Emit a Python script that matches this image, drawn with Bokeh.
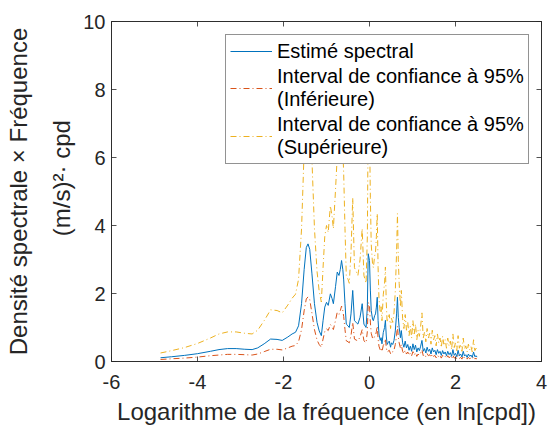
import math
from bokeh.plotting import figure
from bokeh.models import Range1d, LinearAxis, FixedTicker, Legend, LegendItem, ColumnDataSource
from bokeh.embed import file_html
from bokeh.resources import INLINE

# ---------------- data ----------------
log_freq = [
    -4.86, -4.6, -4.3, -4.0, -3.7, -3.5, -3.3, -3.1, -2.9, -2.73, -2.6, -2.45, -2.3, -2.15, -2.03, -1.9, -1.8, -1.72,
    -1.65, -1.58, -1.52, -1.47, -1.43, -1.39, -1.34, -1.28, -1.22, -1.17, -1.12, -1.08, -1.04, -1.0, -0.96, -0.91, -0.87, -0.84, -0.79, -0.75, -0.71, -0.68, -0.65, -0.62,
    -0.60, -0.57, -0.54, -0.50, -0.47, -0.43, -0.39, -0.35, -0.31, -0.27, -0.22, -0.17, -0.13, -0.08, -0.05, -0.03, 0.0, 0.02, 0.04, 0.07, 0.09, 0.12, 0.14, 0.16,
    0.18, 0.20, 0.22, 0.25, 0.27, 0.29, 0.32, 0.35, 0.37, 0.39, 0.41, 0.43, 0.46, 0.49, 0.51, 0.54, 0.57, 0.60, 0.63, 0.65, 0.67, 0.69, 0.72, 0.74, 0.77,
    0.80, 0.83, 0.86, 0.89, 0.92, 0.95, 0.98, 1.01, 1.04, 1.07, 1.10, 1.13, 1.16, 1.19, 1.22, 1.25, 1.28, 1.31, 1.34, 1.37,
    1.40, 1.43, 1.46, 1.49, 1.52, 1.55, 1.58, 1.61, 1.64, 1.67, 1.70, 1.73, 1.76, 1.79, 1.82, 1.85, 1.88, 1.91, 1.94, 1.97,
    2.00, 2.03, 2.06, 2.09, 2.12, 2.15, 2.18, 2.21, 2.24, 2.27, 2.30, 2.33, 2.36, 2.39, 2.42, 2.45, 2.48, 2.50,
]

spectral_estimate = [
    0.11, 0.14, 0.18, 0.23, 0.30, 0.35, 0.38, 0.38, 0.36, 0.35, 0.40, 0.52, 0.66, 0.65, 0.62, 0.72, 0.81, 0.86,
    1.05, 1.7, 2.7, 3.35, 3.46, 3.3, 2.6, 1.7, 1.15, 0.9, 0.76, 1.2, 1.6, 1.74, 1.65, 1.99, 1.85, 1.7, 2.2, 2.63, 2.53, 2.7, 2.97, 2.7,
    2.4, 1.7, 1.1, 1.05, 1.0, 1.4, 2.09, 1.2, 1.15, 1.1, 1.3, 1.7, 1.1, 1.0, 1.6, 3.17, 2.97, 2.1, 1.5, 1.25, 1.2, 1.35, 1.4, 1.6,
    1.89, 1.2, 0.81, 0.62, 0.7, 0.52, 0.85, 1.0, 1.21, 0.75, 0.5, 0.55, 0.6, 0.42, 0.55, 0.5, 0.62, 0.9, 1.4, 1.89, 1.3, 1.0, 0.7, 0.91, 0.55,
    0.42, 0.6, 0.4, 0.5, 0.33, 0.45, 0.3, 0.52, 0.35, 0.48, 0.28, 0.4, 0.32, 0.45, 0.62, 0.3, 0.38, 0.25, 0.42, 0.3,
    0.36, 0.22, 0.4, 0.28, 0.33, 0.2, 0.35, 0.24, 0.3, 0.18, 0.32, 0.22, 0.28, 0.17, 0.3, 0.2, 0.26, 0.15, 0.35, 0.18,
    0.24, 0.14, 0.33, 0.17, 0.22, 0.13, 0.3, 0.16, 0.2, 0.12, 0.22, 0.15, 0.19, 0.12, 0.28, 0.14, 0.17, 0.13,
]

ci_lower = [
    0.06, 0.08, 0.10, 0.13, 0.17, 0.19, 0.21, 0.21, 0.20, 0.19, 0.22, 0.29, 0.36, 0.36, 0.34, 0.40, 0.45, 0.47,
    0.58, 0.94, 1.49, 1.84, 1.90, 1.82, 1.43, 0.94, 0.63, 0.50, 0.42, 0.66, 0.88, 0.96, 0.91, 1.09, 1.02, 0.94, 1.21, 1.45, 1.39, 1.49, 1.63, 1.49,
    1.32, 0.94, 0.61, 0.58, 0.55, 0.77, 1.15, 0.66, 0.63, 0.61, 0.72, 0.94, 0.61, 0.55, 0.88, 1.74, 1.63, 1.16, 0.83, 0.69, 0.66, 0.74, 0.77, 0.88,
    1.04, 0.66, 0.45, 0.34, 0.39, 0.29, 0.47, 0.55, 0.67, 0.41, 0.28, 0.30, 0.33, 0.23, 0.30, 0.28, 0.34, 0.50, 0.77, 1.04, 0.72, 0.55, 0.39, 0.50, 0.30,
    0.23, 0.33, 0.22, 0.28, 0.18, 0.25, 0.17, 0.29, 0.19, 0.26, 0.15, 0.22, 0.18, 0.25, 0.34, 0.17, 0.21, 0.14, 0.23, 0.17,
    0.20, 0.12, 0.22, 0.15, 0.18, 0.11, 0.19, 0.13, 0.17, 0.10, 0.18, 0.12, 0.15, 0.09, 0.17, 0.11, 0.14, 0.08, 0.19, 0.10,
    0.13, 0.08, 0.18, 0.09, 0.12, 0.07, 0.17, 0.09, 0.11, 0.07, 0.12, 0.08, 0.10, 0.07, 0.15, 0.08, 0.09, 0.07,
]

ci_upper = [
    0.25, 0.32, 0.41, 0.53, 0.69, 0.81, 0.87, 0.87, 0.83, 0.81, 0.92, 1.20, 1.52, 1.50, 1.43, 1.66, 1.86, 1.98,
    2.42, 3.91, 6.21, 7.71, 7.96, 7.59, 5.98, 3.91, 2.65, 2.07, 1.75, 2.76, 3.68, 4.00, 3.80, 4.58, 4.26, 3.91, 5.06, 6.05, 5.82, 6.21, 6.83, 6.21,
    5.52, 3.91, 2.53, 2.42, 2.30, 3.22, 4.81, 2.76, 2.65, 2.53, 2.99, 3.91, 2.53, 2.30, 3.68, 7.29, 6.83, 4.83, 3.45, 2.88, 2.76, 3.11, 3.22, 3.68,
    4.35, 2.76, 1.86, 1.43, 1.61, 1.20, 1.96, 2.30, 2.78, 1.73, 1.15, 1.27, 1.38, 0.97, 1.27, 1.15, 1.43, 2.07, 3.22, 4.35, 2.99, 2.30, 1.61, 2.09, 1.27,
    0.97, 1.38, 0.92, 1.15, 0.76, 1.04, 0.69, 1.20, 0.81, 1.10, 0.64, 0.92, 0.74, 1.04, 1.43, 0.69, 0.87, 0.58, 0.97, 0.69,
    0.83, 0.51, 0.92, 0.64, 0.76, 0.46, 0.81, 0.55, 0.69, 0.41, 0.74, 0.51, 0.64, 0.39, 0.69, 0.46, 0.60, 0.35, 0.81, 0.41,
    0.55, 0.32, 0.76, 0.39, 0.51, 0.30, 0.69, 0.37, 0.46, 0.28, 0.51, 0.35, 0.44, 0.28, 0.64, 0.32, 0.39, 0.30,
]

x_ticks = [-6, -4, -2, 0, 2, 4]
y_ticks = [0, 2, 4, 6, 8, 10]

series_labels = [
    "Estimé spectral",
    "Interval de confiance à 95%\n(Inférieure)",
    "Interval de confiance à 95%\n(Supérieure)",
]
x_label = "Logarithme de la fréquence (en ln[cpd])"
y_label = "Densité spectrale × Fréquence\n\u00a0\u00a0\u00a0\u00a0(m/s)²· cpd"

# ---------------- styling ----------------
FONT = "Liberation Sans"
AX = "#262626"
BLUE, ORANGE, YELLOW = "#0072BD", "#D95319", "#EDB120"

src = ColumnDataSource(dict(x=log_freq, est=spectral_estimate, lo=ci_lower, up=ci_upper))

p = figure(width=548, height=430, output_backend="svg", toolbar_location=None,
           x_range=Range1d(-6, 4), y_range=Range1d(0, 10),
           min_border_left=111, min_border_right=7, min_border_top=21, min_border_bottom=69)
p.background_fill_color = "white"
p.border_fill_color = "white"
p.outline_line_color = AX
p.outline_line_width = 0.8
p.xgrid.visible = False
p.ygrid.visible = False

r_est = p.line("x", "est", source=src, line_color=BLUE, line_width=1)
r_lo = p.line("x", "lo", source=src, line_color=ORANGE, line_width=1, line_dash="6 3 1 3")
r_up = p.line("x", "up", source=src, line_color=YELLOW, line_width=1, line_dash="6 3 1 3")

def style_axis(ax, ticks, show_labels):
    ax.ticker = FixedTicker(ticks=ticks)
    ax.major_tick_in = 5
    ax.major_tick_out = 0
    ax.minor_tick_in = 0
    ax.minor_tick_out = 0
    ax.axis_line_color = AX
    ax.axis_line_width = 0.8
    ax.major_tick_line_color = AX
    ax.major_tick_line_width = 0.8
    if show_labels:
        ax.major_label_overrides = {t: str(t) for t in ticks}
        ax.major_label_text_font = FONT
        ax.major_label_text_font_size = "20px"
        ax.major_label_text_line_height = 1.0
        ax.major_label_text_color = AX
    else:
        ax.major_label_overrides = {t: "" for t in ticks}
        ax.major_label_standoff = 0

style_axis(p.xaxis[0], x_ticks, True)
style_axis(p.yaxis[0], y_ticks, True)
p.xaxis[0].major_label_standoff = 13
p.yaxis[0].major_label_standoff = 6

p.xaxis[0].axis_label = x_label
p.xaxis[0].axis_label_text_font = FONT
p.xaxis[0].axis_label_text_font_size = "24px"
p.xaxis[0].axis_label_text_line_height = 1.0
p.xaxis[0].axis_label_text_font_style = "normal"
p.xaxis[0].axis_label_text_color = AX
p.xaxis[0].axis_label_standoff = 6

p.yaxis[0].axis_label = y_label
p.yaxis[0].axis_label_text_font = FONT
p.yaxis[0].axis_label_text_font_size = "24px"
p.yaxis[0].axis_label_text_font_style = "normal"
p.yaxis[0].axis_label_text_color = AX
p.yaxis[0].axis_label_text_line_height = 1.6
p.yaxis[0].axis_label_standoff = 5

top_axis = LinearAxis()
right_axis = LinearAxis()
style_axis(top_axis, x_ticks, False)
style_axis(right_axis, y_ticks, False)
p.add_layout(top_axis, "above")
p.add_layout(right_axis, "right")

legend = Legend(items=[LegendItem(label=series_labels[0], renderers=[r_est]),
                       LegendItem(label=series_labels[1], renderers=[r_lo]),
                       LegendItem(label=series_labels[2], renderers=[r_up])],
                location=(114, 197))
legend.margin = 0
legend.padding = 4
legend.spacing = 2
legend.glyph_width = 42
legend.glyph_height = 20
legend.label_standoff = 5
legend.label_height = 24
legend.label_text_font = FONT
legend.label_text_font_size = "20px"
legend.label_text_line_height = 1.35
legend.label_text_color = "black"
legend.border_line_color = AX
legend.border_line_width = 0.8
legend.background_fill_color = "white"
legend.background_fill_alpha = 1.0
p.add_layout(legend)

open("out.html", "w").write(file_html(p, INLINE))
